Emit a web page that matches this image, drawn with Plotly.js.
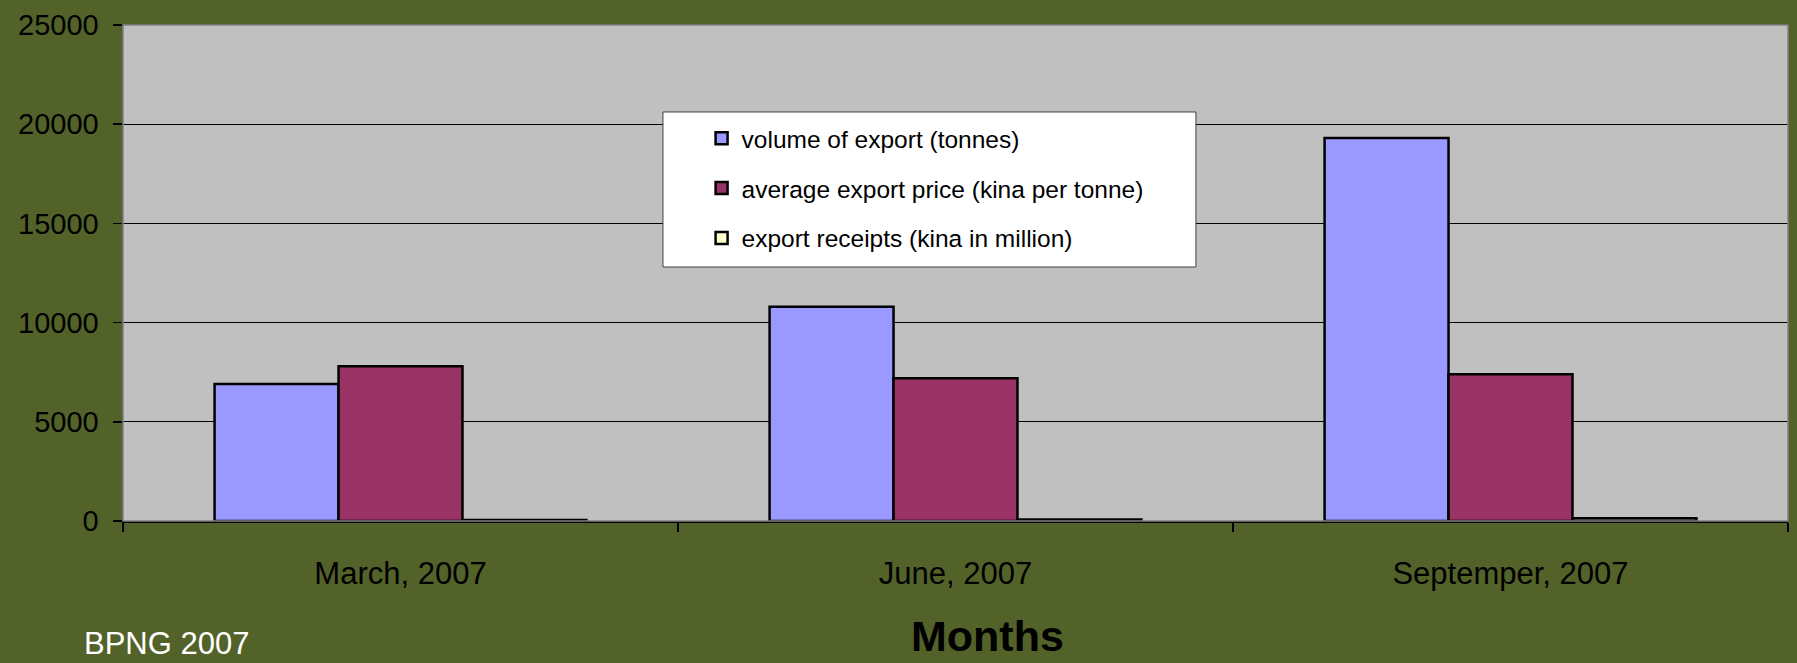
<!DOCTYPE html>
<html>
<head>
<meta charset="utf-8">
<script src="https://cdn.plot.ly/plotly-3.0.1.min.js"></script>
<style>html,body{margin:0;padding:0;background:#536229;}#chart{width:1797px;height:663px;}</style>
</head>
<body>
<div id="chart"></div>
<script>
const categories = ["March, 2007", "June, 2007", "Septemper, 2007"];
const seriesNames = ["volume of export (tonnes)", "average export price (kina per tonne)", "export receipts (kina in million)"];
const volumeTonnes = [6900, 10800, 19300];
const avgPriceKina = [7800, 7200, 7400];
const receiptsMillion = [54, 78, 143];
const yTicks = [0, 5000, 10000, 15000, 20000, 25000];

const font = "Liberation Sans, Arial, sans-serif";
const colors = ["#9999FF", "#993366", "#FFFFCC"];
const values = [volumeTonnes, avgPriceKina, receiptsMillion];

const traces = values.map((v, i) => ({
  type: "bar",
  name: seriesNames[i],
  x: categories,
  y: v,
  legendgroup: "g" + i,
  marker: {color: colors[i], line: {color: "#000000", width: 2.5}},
  hoverinfo: "skip"
}));

const layout = {
  width: 1797, height: 663,
  margin: {l: 123, r: 9, t: 25, b: 142},
  paper_bgcolor: "#536229",
  plot_bgcolor: "#C0C0C0",
  font: {family: font, color: "#000000"},
  barmode: "group",
  bargap: 0.33,
  bargroupgap: 0,
  showlegend: true,
  legend: {
    x: 0.3475, xanchor: "left",
    y: 0.817, yanchor: "top",
    bgcolor: "rgba(0,0,0,0)",
    borderwidth: 0,
    font: {family: font, size: 24.5, color: "#000000"},
    tracegroupgap: 15,
    itemclick: false, itemdoubleclick: false
  },
  xaxis: {
    type: "category",
    tickson: "boundaries",
    ticks: "outside", ticklen: 9, tickwidth: 1.5, tickcolor: "#000000",
    showline: true, linecolor: "#000000", linewidth: 1.5,
    tickfont: {family: font, size: 31, color: "#000000"},
    ticklabelstandoff: 24,
    fixedrange: true
  },
  yaxis: {
    range: [0, 25000],
    tickvals: yTicks,
    ticktext: yTicks.map(String),
    ticks: "outside", ticklen: 9, tickwidth: 1.5, tickcolor: "#000000",
    showline: true, linecolor: "#404040", linewidth: 1.5,
    showgrid: true, gridcolor: "#000000", gridwidth: 1,
    zeroline: false,
    tickfont: {family: font, size: 29, color: "#000000"},
    ticklabelstandoff: 8,
    fixedrange: true
  },
  shapes: [
    {type: "rect", xref: "paper", yref: "paper", x0: 0, x1: 1, y0: 0, y1: 1,
     line: {color: "#808080", width: 1.5}, fillcolor: "rgba(0,0,0,0)", layer: "above"},
    {type: "rect", xref: "paper", yref: "paper", x0: 0.3243, x1: 0.6444, y0: 0.5121, y1: 0.8246,
     line: {color: "#404040", width: 1}, fillcolor: "#FFFFFF", layer: "above"}
  ],
  annotations: [
    {text: "<b>Months</b>", xref: "paper", yref: "paper", x: 0.5195, xanchor: "center",
     y: -0.2319, yanchor: "middle", showarrow: false,
     font: {family: font, size: 43, color: "#000000"}},
    {text: "BPNG 2007", xref: "paper", yref: "paper", x: -0.0246, xanchor: "left",
     y: -0.2863, yanchor: "bottom", showarrow: false,
     font: {family: font, size: 31, color: "#FFFFFF"}}
  ]
};

Plotly.newPlot("chart", traces, layout, {staticPlot: true, displayModeBar: false});
</script>
</body>
</html>
